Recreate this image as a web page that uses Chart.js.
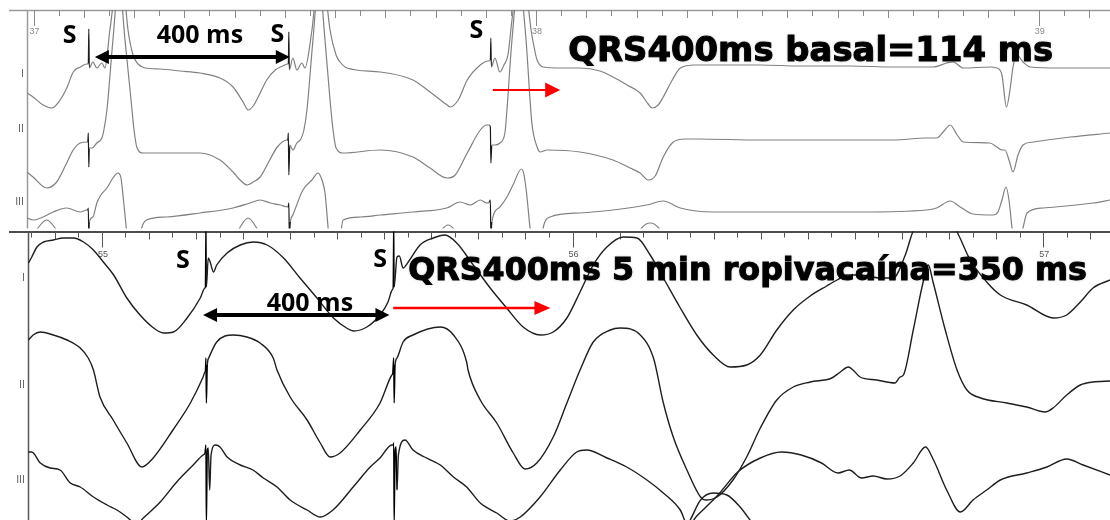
<!DOCTYPE html>
<html>
<head>
<meta charset="utf-8">
<script src="https://cdn.jsdelivr.net/npm/chart.js@4.4.1/dist/chart.umd.min.js"></script>
<style>
    html, body { margin: 0; padding: 0; background: #fff; }
    #wrap { position: relative; width: 1110px; height: 520px; overflow: hidden; }
    canvas { position: absolute; left: 0; }
    #basalChart { top: 0; }
    #ropiChart { top: 230px; }
</style>
</head>
<body>
<div id="wrap">
    <canvas id="basalChart" width="1110" height="230"></canvas>
    <canvas id="ropiChart" width="1110" height="290"></canvas>
</div>
<script>
// time in ms from the first labelled second, amplitude in trace units (up = positive)
const basalTickValues = [0, 1000, 2000];
const basalTickLabels = ['37', '38', '39'];
const ropiTickValues = [0, 1000, 2000];
const ropiTickLabels = ['55', '56', '57'];
const leadNames = ['I', 'II', 'III'];

// basal recording, pacing S every 400 ms
const basalI = [
    [-13,-27],[-1,-31],[19,-39],[37,-42],[53,-34],[67,-21],[79,-6],[93,-1],[106,2],
    [109,2],[110,37],[111,-2],
    [118,4],[126,-2],[136,3],[142,-2],[152,36],[170,96],[178,86],[188,36],[198,11],[208,2],[222,-2],[252,-3],[292,-5],[331,-7],[371,-12],[397,-21],[417,-36],[427,-44],[437,-40],[451,-27],[464,-14],[481,-4],[496,0],[506,2],
    [507,2],[508,34],[509,-4],
    [516,8],[524,-4],[534,3],[540,-2],[554,36],[568,96],[578,86],[590,36],[602,11],[610,4],[624,-2],[690,-6],[755,-14],[789,-26],[823,-39],[829,-41],[845,-34],[863,-14],[889,1],[905,5],
    [909,6],[910,28],[911,-1],
    [918,8],[928,-6],[936,1],[944,11],[952,46],[966,96],[978,86],[990,36],[998,14],[1002,6],[1014,-1],[1048,-2],[1087,-2],[1127,-5],[1153,-11],[1181,-19],[1207,-27],[1223,-38],[1231,-42],[1243,-39],[1253,-31],[1271,-14],[1287,-2],[1316,1],[1352,1],[1446,1],[1525,0],[1625,0],[1710,-1],[1790,-1],[1817,3],[1830,4],[1850,-2],[1903,-1],[1917,-2],[1927,-9],[1936,-41],[1943,-24],[1949,-1],[1957,11],[1969,4],[1983,-1],[2043,-2],[2142,-2]
];
const basalII = [
    [-13,-32],[-1,-37],[26,-48],[46,-42],[66,-23],[79,-10],[93,-3],[107,-2],
    [108,-2],[109,7],[110,-27],[111,-8],
    [116,-8],[126,-3],[136,2],[140,10],[146,30],[158,100],[170,160],[182,100],[194,40],[200,10],[206,-8],[218,-13],[252,-13],[331,-13],[371,-20],[397,-32],[411,-40],[425,-45],[437,-42],[451,-37],[470,-20],[485,-7],[504,0],
    [506,0],[507,7],[508,-35],[510,-5],
    [516,-10],[524,-3],[532,1],[538,10],[544,30],[556,100],[568,160],[580,100],[590,40],[596,10],[602,-8],[616,-13],[690,-10],[755,-17],[789,-28],[823,-38],[839,-35],[863,-13],[889,10],[902,15],
    [907,15],[909,13],[910,-23],[912,-5],
    [918,-5],[928,-3],[938,7],[942,30],[952,100],[966,160],[980,100],[988,40],[992,15],[1002,-7],[1008,-12],[1022,-10],[1087,-12],[1153,-20],[1187,-28],[1207,-33],[1223,-40],[1237,-36],[1253,-17],[1273,-2],[1297,1],[1320,1],[1446,0],[1710,0],[1777,2],[1797,2],[1810,8],[1824,15],[1838,5],[1850,-2],[1903,-3],[1917,-7],[1927,-10],[1933,-10],[1941,-20],[1949,-32],[1959,-15],[1969,-5],[1989,-2],[2063,3],[2142,7]
];
const basalIII = [
    [-13,-6],[-1,-8],[19,-5],[39,0],[66,4],[93,0],[106,2],
    [108,2],[109,4],[110,-25],[111,-10],
    [118,-5],[126,9],[134,17],[146,24],[158,34],[168,39],[174,34],[178,17],[182,-3],[186,-23],[192,-38],[206,-38],[215,-16],[225,-8],[265,-5],[331,-1],[397,4],[431,9],[451,12],[471,9],[491,7],[506,5],
    [507,6],[508,9],[509,-25],[511,-10],
    [516,-3],[536,22],[554,32],[566,39],[574,32],[580,19],[586,-15],[590,-38],[606,-38],[616,-8],[650,-5],[690,-3],[755,0],[822,4],[849,10],[869,7],[889,12],[902,9],
    [907,10],[909,12],[910,-25],[912,-10],
    [928,5],[942,15],[954,27],[971,43],[976,37],[981,19],[988,-16],[994,-38],[1008,-38],[1014,-16],[1028,-5],[1087,-1],[1153,2],[1220,7],[1253,11],[1287,4],[1352,0],[1446,0],[1645,0],[1777,2],[1797,4],[1824,11],[1844,5],[1869,-2],[1909,-3],[1919,0],[1927,12],[1935,25],[1941,12],[1947,-16],[1951,-33],[1963,-33],[1969,-16],[1977,-1],[2009,4],[2109,9],[2142,12]
];
// next lead down, only its T waves reach into view
const basalNext = [
    [-13,-10],[-9,5],[9,22],[26,30],[43,22],[61,5],[80,-15],[380,-15],[392,5],[410,22],[427,32],[444,22],[462,5],[480,-15],
    [780,-15],[795,5],[812,20],[825,25],[838,20],[855,5],[870,-15],[1180,-15],[1192,5],[1210,22],[1227,27],[1244,22],[1262,5],[1275,-15],[2142,-15]
];

// after 5 min of ropivacaine
const ropiI = [
    [-156,15],[-149,21],[-138,31],[-124,36],[-103,38],[-82,40],[-60,40],[-39,36],[-18,28],[3,16],[25,3],[53,-20],[81,-37],[110,-50],[131,-55],[152,-54],[181,-40],[209,-20],[219,-10],
    [220,-9],[221,47],[222,-9],
    [226,20],[230,16],[237,6],[244,13],[266,25],[294,33],[322,36],[351,33],[386,20],[421,0],[457,-20],[492,-40],[520,-50],[535,-53],[563,-49],[591,-37],[608,-24],[617,-12],
    [619,-9],[620,47],[621,-9],
    [627,21],[632,22],[640,10],[651,16],[676,33],[704,40],[729,43],[754,35],[789,13],[825,-10],[860,-30],[895,-49],[932,-57],[959,-54],[988,-40],[1016,-14],[1044,13],[1073,31],[1108,41],[1137,40],[1165,23],[1193,0],[1229,-30],[1264,-57],[1299,-77],[1335,-89],[1370,-87],[1399,-77],[1434,-52],[1469,-32],[1505,-18],[1540,-8],[1562,-2],[1583,3],[1612,3],[1654,0],[1681,0],[1707,23],[1723,46],[1770,78],[1817,46],[1845,18],[1880,-4],[1909,-17],[1965,-27],[2022,-40],[2050,-37],[2079,-24],[2106,-10],[2142,-2]
];
const ropiII = [
    [-156,45],[-146,50],[-131,53],[-103,50],[-74,45],[-46,37],[-29,27],[-18,15],[-4,-12],[24,-35],[53,-58],[85,-82],[109,-73],[151,-45],[188,-18],[215,8],[219,13],
    [220,14],[221,27],[222,-18],[224,20],
    [227,27],[244,43],[279,50],[308,48],[336,42],[364,27],[372,15],[400,-12],[436,-35],[464,-58],[485,-72],[506,-68],[549,-45],[591,-18],[616,10],
    [618,12],[620,27],[621,-18],[623,20],
    [627,27],[640,43],[661,50],[719,58],[747,50],[775,23],[778,15],[804,-15],[839,-38],[874,-68],[899,-84],[924,-78],[959,-52],[988,-18],[1016,15],[1044,43],[1080,55],[1101,57],[1144,50],[1172,27],[1193,-18],[1214,-52],[1243,-85],[1272,-112],[1283,-115],[1307,-112],[1341,-95],[1370,-72],[1399,-43],[1434,-15],[1469,-2],[1505,3],[1551,7],[1569,13],[1586,18],[1596,15],[1611,8],[1646,5],[1685,2],[1696,8],[1703,10],[1724,55],[1745,103],[1756,120],[1766,103],[1792,55],[1817,15],[1838,-5],[1867,-13],[1923,-18],[1965,-22],[2004,-27],[2021,-23],[2050,-10],[2079,0],[2106,3],[2142,4]
];
const ropiIII = [
    [-156,28],[-149,28],[-131,17],[-110,12],[-89,10],[-67,-3],[-46,-7],[-18,-17],[11,-25],[32,-30],[53,-37],[66,-42],[77,-43],[88,-38],[124,-22],[159,-2],[194,15],[215,25],
    [219,27],[221,35],[222,-45],[224,30],[226,32],[229,-10],[232,25],
    [241,35],[251,33],[266,23],[294,15],[321,10],[343,2],[372,-7],[400,-20],[436,-30],[464,-37],[491,-30],[534,-7],[570,13],[591,22],[616,35],
    [619,35],[620,37],[621,-45],[623,30],[625,33],[627,-10],[630,25],
    [644,40],[661,30],[690,22],[719,15],[747,3],[775,-7],[804,-23],[839,-33],[867,-41],[889,-37],[931,-17],[974,10],[1009,28],[1030,30],[1073,22],[1115,13],[1158,0],[1193,-13],[1229,-30],[1245,-45],[1266,-35],[1309,-15],[1351,8],[1399,22],[1444,28],[1486,25],[1529,17],[1564,7],[1588,10],[1614,2],[1639,4],[1668,1],[1696,4],[1724,17],[1750,33],[1767,20],[1795,-10],[1824,-32],[1851,-20],[1880,-10],[1909,0],[1965,7],[2008,13],[2050,21],[2085,15],[2142,5]
];
const ropiNext = [
    [-157,-30],[1200,-30],[1229,25],[1250,40],[1272,60],[1299,67],[1328,65],[1356,53],[1377,40],[1399,25],[1420,-30],[2142,-30]
];

// panel layout: vertical offset of each lead inside its panel
const basalPanel = {
    leads: [basalI, basalII, basalIII, basalNext],
    offsets: [162.5, 88.5, 16.5, -21.5],
    labelY: [154.5, 99.5, 26.5],
    xMin: -13, xMax: 2142, yMax: 218.5,
    padding: { left: 27, right: 0, top: 10, bottom: 1.5 },
    trace: '#808080', spike: '#1a1a1a', width: 1.2,
    rule: '#9a9a9a', axis: '#9a9a9a', tick: '#8a8a8a',
    tickValues: basalTickValues, tickLabels: basalTickLabels, tickLabelDy: 22,
    arrows: [
        { from: 122, to: 510, y: 171.5, color: '#000', lw: 4, head: 14, half: 7, both: true },
        { from: 914, to: 1048, y: 138.5, color: '#ff0000', lw: 2, head: 15, half: 7.5, both: false }
    ],
    notes: [
        { text: 'S', t: 72, y: 185.5 },
        { text: 'S', t: 485, y: 186.5 },
        { text: 'S', t: 881, y: 190.5 },
        { text: '400 ms', t: 331, y: 185.5 }
    ],
    title: { text: 'QRS400ms basal=114 ms', from: 1064, to: 2029, y: 167.5, size: 34 }
};

const ropiPanel = {
    leads: [ropiI, ropiII, ropiIII, ropiNext],
    offsets: [242, 135, 40, -40],
    labelY: [242, 135, 40],
    xMin: -157, xMax: 2142, yMax: 288.5,
    padding: { left: 28, right: 0, top: 1.5, bottom: 0 },
    trace: '#1e1e1e', spike: '#000', width: 1.4,
    rule: '#111', axis: '#555', tick: '#555',
    tickValues: ropiTickValues, tickLabels: ropiTickLabels, tickLabelDy: 23.5,
    arrows: [
        { from: 215, to: 611, y: 205, color: '#000', lw: 4, head: 14, half: 7, both: true },
        { from: 619, to: 953, y: 212, color: '#ff0000', lw: 2.5, head: 16, half: 7, both: false }
    ],
    notes: [
        { text: 'S', t: 172, y: 252 },
        { text: 'S', t: 591, y: 253 },
        { text: '400 ms', t: 442, y: 209 }
    ],
    title: { text: 'QRS400ms 5 min ropivacaína=350 ms', from: 651, to: 2093, y: 240, size: 32 }
};

function drawArrow(ctx, x0, x1, y, a) {
    ctx.strokeStyle = a.color;
    ctx.fillStyle = a.color;
    ctx.lineWidth = a.lw;
    ctx.beginPath();
    ctx.moveTo(a.both ? x0 + a.head * 0.7 : x0, y);
    ctx.lineTo(x1 - a.head * 0.7, y);
    ctx.stroke();
    ctx.beginPath();
    ctx.moveTo(x1, y);
    ctx.lineTo(x1 - a.head, y - a.half);
    ctx.lineTo(x1 - a.head, y + a.half);
    ctx.closePath();
    ctx.fill();
    if (a.both) {
        ctx.beginPath();
        ctx.moveTo(x0, y);
        ctx.lineTo(x0 + a.head, y - a.half);
        ctx.lineTo(x0 + a.head, y + a.half);
        ctx.closePath();
        ctx.fill();
    }
}

// frame, time ticks and lead names under the traces; arrows and captions on top
const tracingFrame = {
    id: 'tracingFrame',
    beforeDatasetsDraw(chart, args, p) {
        const { ctx, chartArea: a, scales: { x, y } } = chart;
        ctx.save();

        // horizontal rules
        ctx.lineWidth = p === basalPanel ? 1 : 1.5;
        ctx.strokeStyle = p.rule;
        ctx.beginPath();
        ctx.moveTo(9, a.top + 0.5);
        ctx.lineTo(a.right, a.top + 0.5);
        ctx.stroke();
        if (p === basalPanel) {
            ctx.strokeStyle = '#111';
            ctx.lineWidth = 1.5;
            ctx.beginPath();
            ctx.moveTo(9, a.bottom);
            ctx.lineTo(a.right, a.bottom);
            ctx.stroke();
        }

        // left axis
        ctx.strokeStyle = p.axis;
        ctx.lineWidth = p === basalPanel ? 1 : 1.5;
        ctx.beginPath();
        ctx.moveTo(a.left + 0.5, a.top);
        ctx.lineTo(a.left + 0.5, a.bottom);
        ctx.stroke();

        // time ticks every 50 ms, longer every 100 ms and every second
        ctx.strokeStyle = p.tick;
        ctx.lineWidth = 1;
        for (let t = Math.ceil(p.xMin / 50) * 50; t <= p.xMax; t += 50) {
            const px = Math.round(x.getPixelForValue(t)) + 0.5;
            const len = t % 1000 === 0 ? 16 : (t % 100 === 0 ? 8 : 6);
            ctx.beginPath();
            ctx.moveTo(px, a.top);
            ctx.lineTo(px, a.top + len);
            ctx.stroke();
        }
        ctx.fillStyle = p.tick;
        ctx.font = '9px "Liberation Sans"';
        ctx.textAlign = 'center';
        ctx.textBaseline = 'middle';
        p.tickValues.forEach((t, i) => {
            ctx.fillText(p.tickLabels[i], x.getPixelForValue(t) + 1, a.top + p.tickLabelDy);
        });

        // lead names
        ctx.fillStyle = '#666';
        ctx.font = '10px "DejaVu Sans"';
        ctx.textAlign = 'right';
        leadNames.forEach((name, i) => {
            ctx.fillText(name, a.left - 3, y.getPixelForValue(p.labelY[i]));
        });
        ctx.restore();
    },
    afterDatasetsDraw(chart, args, p) {
        const { ctx, scales: { x, y } } = chart;
        ctx.save();
        p.arrows.forEach(ar => {
            drawArrow(ctx, x.getPixelForValue(ar.from), x.getPixelForValue(ar.to), y.getPixelForValue(ar.y), ar);
        });

        ctx.fillStyle = '#000';
        ctx.textAlign = 'center';
        ctx.textBaseline = 'alphabetic';
        ctx.font = 'bold 25px "Open Sans"';
        p.notes.forEach(n => {
            ctx.fillText(n.text, x.getPixelForValue(n.t), y.getPixelForValue(n.y));
        });

        // heavy caption, stretched to its measured span, with a soft grey halo
        const ti = p.title;
        const x0 = x.getPixelForValue(ti.from);
        const x1 = x.getPixelForValue(ti.to);
        ctx.font = 'bold ' + ti.size + 'px "DejaVu Sans"';
        const w = ctx.measureText(ti.text).width;
        ctx.translate(x0, y.getPixelForValue(ti.y));
        ctx.scale((x1 - x0) / w, 1);
        ctx.textAlign = 'left';
        ctx.shadowColor = 'rgba(0,0,0,0.3)';
        ctx.shadowBlur = 3;
        ctx.lineWidth = 1;
        ctx.strokeStyle = '#000';
        ctx.fillText(ti.text, 0, 0);
        ctx.shadowBlur = 0;
        ctx.strokeText(ti.text, 0, 0);
        ctx.restore();
    }
};

function makeTracing(canvasId, p) {
    return new Chart(document.getElementById(canvasId), {
        type: 'line',
        data: {
            datasets: p.leads.map((lead, i) => ({
                data: lead.map(([t, v]) => ({ x: t, y: p.offsets[i] + v })),
                borderColor: p.trace,
                borderWidth: p.width,
                pointRadius: 0,
                cubicInterpolationMode: 'monotone',
                clip: 0,
                segment: {
                    // stimulus artefacts are drawn darker
                    borderColor: c => (c.p1.parsed.x - c.p0.parsed.x <= 2 ? p.spike : undefined)
                }
            }))
        },
        options: {
            responsive: false,
            animation: false,
            events: [],
            layout: { padding: p.padding },
            scales: {
                x: { type: 'linear', display: false, min: p.xMin, max: p.xMax },
                y: { display: false, min: 0, max: p.yMax }
            },
            plugins: {
                legend: { display: false },
                tooltip: { enabled: false },
                tracingFrame: p
            }
        },
        plugins: [tracingFrame]
    });
}

window.basalChart = makeTracing('basalChart', basalPanel);
window.ropiChart = makeTracing('ropiChart', ropiPanel);
</script>
</body>
</html>
